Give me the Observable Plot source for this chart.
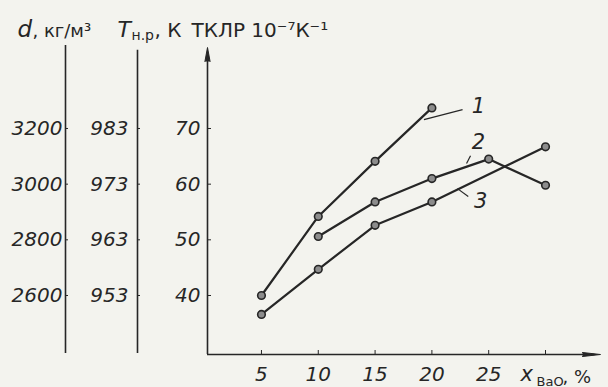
<!DOCTYPE html>
<html><head><meta charset="utf-8">
<script src="https://cdn.jsdelivr.net/npm/d3@7"></script>
<script src="https://cdn.jsdelivr.net/npm/@observablehq/plot@0.6"></script>
<style>
html,body{margin:0;padding:0;background:#f3f3ee;}
g[aria-label="y-axis tick label"] text, g[aria-label="x-axis tick label"] text { font-style: italic; }
</style></head><body><div id="chart"></div>
<script>
// ---- data ----
const x1 = [5, 10, 15, 20];
const tklr1 = [40, 54.2, 64.1, 73.7];
const x2 = [10, 15, 20, 25, 30];
const tklr2 = [50.6, 56.8, 61, 64.5, 59.8];
const x3 = [5, 10, 15, 20, 30];
const tklr3 = [36.6, 44.7, 52.6, 56.8, 66.7];

const yTicks = [40, 50, 60, 70];
const yTickLabels = ["40", "50", "60", "70"];
const dTickLabels = ["2600", "2800", "3000", "3200"];
const tTickLabels = ["953", "963", "973", "983"];
const xTicks = [5, 10, 15, 20, 25, 30];
const xTickLabels = ["5", "10", "15", "20", "25", ""];

const curveNames = ["1", "2", "3"];
const curveLabelX = [23.5, 23.5, 23.7];
const curveLabelY = [74.0, 67.6, 56.9];
const leaderX1 = [19.3, 23.05, 22.25];
const leaderY1 = [71.6, 63.7, 59.2];
const leaderX2 = [22.7, 23.4, 23.2];
const leaderY2 = [73.4, 65.1, 57.8];

// ---- tables ----
const rows = [
  ...x1.map((x, i) => ({curve: "1", x, y: tklr1[i]})),
  ...x2.map((x, i) => ({curve: "2", x, y: tklr2[i]})),
  ...x3.map((x, i) => ({curve: "3", x, y: tklr3[i]}))
];
const labels = curveNames.map((t, i) => ({t, x: curveLabelX[i], y: curveLabelY[i]}));
const leaders = curveNames.map((t, i) => ({x1: leaderX1[i], y1: leaderY1[i], x2: leaderX2[i], y2: leaderY2[i]}));

const X0 = 0.25, X1 = 34.84, Y0 = 29.4, Y1 = 84.55;
const ink = "#262626";
const fmt = arr => d => arr[yTicks.indexOf(d)];

const hdr = (s, dx, dy, fontSize, fontStyle, anchor = "top-left") =>
  Plot.text([s], {text: d => d, frameAnchor: anchor, dx, dy, textAnchor: "start", lineAnchor: "bottom",
    fontSize, fontStyle, fill: ink});

const plot = Plot.plot({
  width: 608, height: 387,
  marginLeft: 207, marginRight: 8, marginTop: 47, marginBottom: 33,
  x: {domain: [X0, X1]},
  y: {domain: [Y0, Y1]},
  style: {background: "#f3f3ee", fontFamily: "DejaVu Sans", color: ink, overflow: "visible"},
  marks: [
    // left scale lines
    Plot.ruleX([X0], {y1: Y0 + 0.2, y2: Y1 + 0.35, dx: -142, stroke: ink, strokeWidth: 1.6}),
    Plot.ruleX([X0], {y1: Y0 + 0.2, y2: Y1 - 0.5, dx: -70, stroke: ink, strokeWidth: 1.6}),
    // main axes
    Plot.ruleX([X0], {y1: Y0, y2: Y1 - 1, stroke: ink, strokeWidth: 1.6}),
    Plot.ruleY([Y0], {x1: X0, x2: X1 - 0.5, stroke: ink, strokeWidth: 1.6}),
    Plot.vector([0], {x: X0, y: Y1, rotate: 0, length: 14, anchor: "end", shape: "spike", r: 2.6, fill: ink, stroke: ink, strokeWidth: 1}),
    Plot.vector([0], {x: X1, y: Y0, rotate: 90, length: 18, anchor: "end", shape: "spike", r: 2, fill: ink, stroke: ink, strokeWidth: 1}),
    // axes ticks & labels
    Plot.axisY(yTicks, {anchor: "left", label: null, tickSize: -4, tickPadding: 11, tickFormat: fmt(yTickLabels), fontSize: 20}),
    Plot.axisY(yTicks, {anchor: "left", label: null, tickSize: -3, tickPadding: 6, dx: -142, tickFormat: fmt(dTickLabels), fontSize: 20}),
    Plot.axisY(yTicks, {anchor: "left", label: null, tickSize: -3, tickPadding: 12, dx: -70, tickFormat: fmt(tTickLabels), fontSize: 20}),
    Plot.axisX(xTicks, {anchor: "bottom", label: null, tickSize: -4, tickPadding: 16, tickFormat: d => xTickLabels[xTicks.indexOf(d)], fontSize: 20}),
    // curves
    Plot.line(rows, {x: "x", y: "y", z: "curve", stroke: ink, strokeWidth: 2.2}),
    Plot.dot(rows, {x: "x", y: "y", r: 3.8, fill: "#8c8c8c", stroke: ink, strokeWidth: 1.6}),
    // curve labels
    Plot.link(leaders, {x1: "x1", y1: "y1", x2: "x2", y2: "y2", stroke: ink, strokeWidth: 1.2}),
    Plot.text(labels, {x: "x", y: "y", text: "t", fontSize: 21, fontStyle: "italic", fill: ink, textAnchor: "start"}),
    // header labels
    hdr("d", -190, -11, 23, "italic"),
    hdr(", кг/м³", -175, -11, 18, "normal"),
    hdr("T", -90, -11, 22, "italic"),
    hdr("н.р", -76, -8, 14, "normal"),
    hdr(", К", -53, -11, 20, "normal"),
    hdr("ТКЛР 10⁻⁷К⁻¹", -16, -11, 20, "normal"),
    // x label
    hdr("x", -80, 26, 21, "italic", "bottom-right"),
    hdr("BaO", -64, 31, 13, "normal", "bottom-right"),
    hdr(", %", -38, 28, 18, "normal", "bottom-right")
  ]
});
document.getElementById("chart").appendChild(plot);
</script></body></html>
